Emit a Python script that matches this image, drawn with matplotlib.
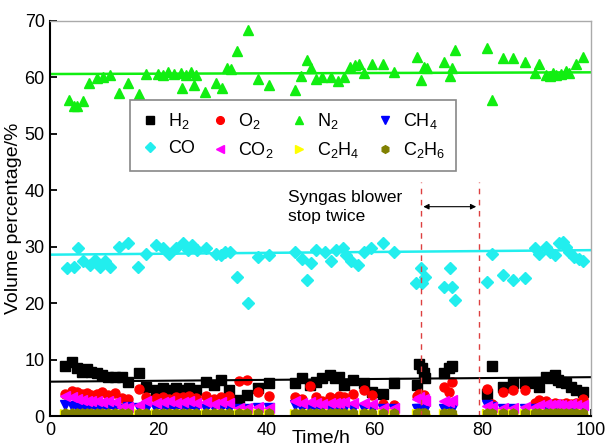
import matplotlib
matplotlib.use("Agg")
import matplotlib.pyplot as plt

plt.rcParams['font.family'] = ['Liberation Sans', 'DejaVu Sans']
plt.rcParams['mathtext.default'] = 'regular'

# sampling times (h) for the low-concentration gases
t_low = [2.8, 4.0, 4.9, 5.8, 6.7, 7.6, 8.6, 9.5, 10.7, 11.9,
         13.2, 14.4, 16.4, 17.7, 19.6, 20.8, 22.0, 23.2, 24.5, 25.7,
         26.9, 28.8, 30.3, 31.5, 33.0, 34.9, 36.4, 38.5, 40.4, 45.3,
         46.5, 48.0, 49.2, 50.2, 51.7, 52.6, 53.5, 54.4, 56.0, 58.1,
         59.6, 61.5, 63.6, 67.9, 68.2, 68.8, 69.1, 69.4, 72.8, 73.7,
         74.3, 80.7, 81.7, 83.8, 85.6, 87.8, 89.6, 90.5, 91.7, 92.4,
         93.3, 93.9, 94.5, 95.4, 96.3, 97.2, 98.5]
h2 = [8.9, 9.5, 8.5, 7.9, 8.3, 7.9, 7.6, 7.3, 7.0, 7.0,
      6.9, 6.1, 7.7, 5.2, 4.6, 4.9, 4.6, 4.9, 4.6, 4.9,
      4.6, 6.1, 5.5, 6.4, 4.6, 2.8, 3.7, 4.9, 5.8, 5.8,
      6.7, 5.5, 6.1, 6.7, 7.3, 6.7, 7.0, 5.5, 6.4, 5.8,
      4.3, 4.0, 5.8, 5.5, 9.3, 8.5, 7.6, 6.7, 7.6, 8.5,
      8.8, 4.0, 8.9, 5.2, 5.8, 5.8, 5.8, 5.2, 7.0, 6.7,
      7.3, 6.4, 6.1, 5.8, 5.2, 4.6, 4.3]
o2 = [4.0, 4.5, 4.3, 3.9, 4.1, 3.8, 3.9, 4.2, 3.8, 4.1,
      3.2, 3.0, 4.8, 3.4, 3.2, 3.4, 3.1, 3.4, 3.3, 3.5,
      3.2, 3.6, 3.0, 3.4, 3.5, 6.3, 6.4, 4.3, 3.6, 3.3,
      3.0, 5.4, 3.4, 2.6, 3.3, 3.0, 3.6, 3.3, 4.0, 4.6,
      3.7, 2.2, 1.9, 3.6, 4.0, 3.3, 3.8, 2.8, 5.2, 4.3,
      6.0, 4.8, 2.2, 4.3, 4.6, 4.6, 2.3, 2.8, 2.6, 2.2,
      2.4, 2.2, 2.1, 2.3, 2.2, 2.4, 3.0]
co2 = [3.5, 3.3, 3.0, 2.8, 2.7, 2.6, 2.7, 2.5, 2.6, 2.5,
       1.6, 1.7, 2.0, 2.6, 2.4, 2.5, 2.6, 2.4, 2.5, 2.6,
       2.4, 2.5, 2.2, 2.5, 2.4, 1.4, 1.5, 1.6, 1.5, 2.6,
       2.4, 2.5, 2.3, 2.2, 2.4, 2.3, 2.4, 2.5, 2.3, 2.4,
       2.2, 1.5, 1.4, 3.0, 3.3, 2.8, 3.1, 2.6, 2.7, 2.5,
       2.9, 1.8, 1.6, 1.5, 1.5, 1.6, 1.6, 2.0, 2.1, 2.0,
       2.1, 2.0, 1.9, 2.0, 2.1, 1.9, 2.0]
ch4 = [2.0, 1.8, 1.6, 1.4, 1.3, 1.3, 1.2, 1.3, 1.2, 1.3,
       1.2, 1.6, 1.4, 1.2, 1.3, 1.2, 1.3, 1.2, 1.3, 1.2,
       1.3, 1.2, 1.4, 1.3, 1.2, 1.3, 1.2, 1.5, 1.4, 1.9,
       1.3, 1.2, 1.3, 1.2, 1.3, 1.2, 1.3, 1.2, 1.3, 1.2,
       1.3, 1.2, 1.3, 1.2, 1.3, 1.2, 1.3, 1.2, 1.3, 1.2,
       1.3, 1.9, 1.6, 1.3, 1.2, 1.3, 1.2, 1.3, 1.2, 1.3,
       1.2, 1.3, 1.2, 1.3, 1.2, 1.3, 1.2]
c2h4 = [0.3, 0.4, 0.3, 0.4, 0.3, 0.4, 0.3, 0.4, 0.3, 0.4,
        0.3, 0.4, 0.3, 0.4, 0.3, 0.4, 0.3, 0.4, 0.3, 0.4,
        0.3, 0.4, 0.3, 0.4, 0.3, 0.4, 0.3, 0.4, 0.3, 0.4,
        0.3, 0.4, 0.3, 0.4, 0.3, 0.4, 0.3, 0.4, 0.3, 0.4,
        0.3, 0.4, 0.3, 0.4, 0.3, 0.4, 0.3, 0.4, 0.3, 0.4,
        0.3, 0.4, 0.3, 0.4, 0.3, 0.4, 0.3, 0.4, 0.3, 0.4,
        0.3, 0.4, 0.3, 0.4, 0.3, 0.4, 0.3]
c2h6 = [0.6, 0.5, 0.6, 0.5, 0.6, 0.5, 0.6, 0.5, 0.6, 0.5,
        0.6, 0.5, 0.6, 0.5, 0.6, 0.5, 0.6, 0.5, 0.6, 0.5,
        0.6, 0.5, 0.6, 0.5, 0.6, 0.5, 0.6, 0.5, 0.6, 0.5,
        0.6, 0.5, 0.6, 0.5, 0.6, 0.5, 0.6, 0.5, 0.6, 0.5,
        0.6, 0.5, 0.6, 0.5, 0.6, 0.5, 0.6, 0.5, 0.6, 0.5,
        0.6, 0.5, 0.6, 0.5, 0.6, 0.5, 0.6, 0.5, 0.6, 0.5,
        0.6, 0.5, 0.6, 0.5, 0.6, 0.5, 0.6]

t_n2 = [3.4, 4.3, 4.9, 6.1, 7.2, 8.6, 9.8, 11.0, 12.8, 14.4,
        16.4, 17.7, 19.9, 20.8, 21.7, 22.9, 24.2, 24.3, 25.1, 26.0,
        26.6, 26.9, 28.6, 30.6, 31.7, 32.7, 33.5, 34.6, 36.6, 38.4,
        40.4, 45.3, 46.4, 47.4, 48.3, 49.2, 50.2, 52.0, 53.2, 54.4,
        55.4, 56.3, 57.2, 58.1, 59.6, 61.5, 63.6, 67.9, 68.5, 69.1,
        69.7, 72.8, 74.0, 74.3, 74.9, 80.7, 81.7, 83.8, 85.6, 87.8,
        89.6, 90.5, 91.7, 92.4, 93.0, 93.6, 94.5, 95.4, 96.0, 97.2,
        98.5]
n2 = [56.0, 55.0, 54.9, 55.8, 59.0, 59.9, 60.0, 60.5, 57.2, 59.0,
      57.0, 60.6, 60.6, 60.5, 61.0, 60.6, 60.8, 58.2, 60.5, 61.0,
      58.7, 60.5, 57.5, 59.0, 58.2, 61.6, 61.5, 64.6, 68.4, 59.8,
      58.7, 57.8, 60.2, 63.1, 61.6, 59.8, 60.0, 60.1, 59.3, 60.0,
      61.9, 62.2, 62.4, 60.8, 62.4, 62.4, 60.9, 63.7, 59.6, 61.9,
      61.7, 62.8, 60.2, 61.7, 64.9, 65.2, 56.0, 63.4, 63.4, 62.8,
      60.8, 62.4, 60.5, 60.2, 60.8, 60.4, 60.6, 61.1, 60.8, 62.4,
      63.7]

t_co = [3.1, 4.3, 5.2, 6.1, 7.3, 8.3, 9.2, 10.1, 11.0, 12.8,
        14.4, 16.2, 17.7, 19.6, 20.8, 22.0, 23.2, 24.5, 25.4, 26.3,
        27.2, 28.8, 30.6, 31.5, 32.4, 33.3, 34.6, 36.6, 38.4, 40.4,
        45.3, 46.5, 47.4, 48.3, 49.2, 50.8, 52.0, 52.9, 54.1, 54.7,
        55.6, 56.9, 58.1, 59.3, 61.5, 63.6, 67.6, 68.5, 68.8, 69.4,
        72.8, 74.0, 74.3, 74.9, 80.7, 81.7, 83.8, 85.6, 87.8, 89.6,
        90.5, 91.7, 92.4, 93.3, 94.2, 94.8, 95.4, 96.0, 96.9, 97.9,
        98.5]
co = [26.2, 26.5, 29.7, 27.4, 26.8, 27.7, 26.5, 27.4, 26.5, 30.0,
      30.6, 26.5, 28.8, 30.3, 29.7, 28.8, 29.7, 30.6, 29.4, 30.3,
      29.4, 29.7, 28.8, 28.5, 29.1, 29.1, 24.7, 20.0, 28.2, 28.5,
      29.1, 27.9, 24.1, 27.1, 29.4, 29.1, 27.4, 29.4, 29.7, 28.5,
      27.4, 26.8, 29.1, 29.7, 30.6, 29.1, 23.5, 26.2, 23.5, 24.7,
      22.9, 26.2, 22.9, 20.6, 23.8, 28.8, 25.0, 24.1, 24.4, 29.7,
      28.8, 30.0, 29.1, 28.5, 30.6, 30.9, 30.0, 29.1, 28.2, 27.9,
      27.4]

# linear trend lines (end points)
fit_t = [0, 100]
fit_n2 = [60.6, 60.9]
fit_co = [28.6, 29.4]
fit_h2 = [6.1, 6.9]

# blower stop period
stop_t = [68.5, 79.3]

fig = plt.figure(figsize=(6.06, 4.46), dpi=100)
ax = fig.add_axes([0.083, 0.067, 0.892, 0.886])

ms = 6.5
ax.plot(t_low, h2, 's', color='black', ms=ms, label='H$_2$')
ax.plot(t_low, o2, 'o', color='#ff0000', ms=ms, label='O$_2$')
ax.plot(t_n2, n2, '^', color='#11ee11', ms=ms + 1, label='N$_2$')
ax.plot(t_low, ch4, 'v', color='#0000ff', ms=ms, label='CH$_4$')
ax.plot(t_co, co, 'D', color='#22eeee', ms=ms - 0.5, label='CO')
ax.plot(t_low, co2, '<', color='#ff00ff', ms=ms + 1, label='CO$_2$')
ax.plot(t_low, c2h4, '>', color='#ffff00', ms=ms, label='C$_2$H$_4$')
ax.plot(t_low, c2h6, 'h', color='#808000', ms=ms, label='C$_2$H$_6$')

ax.plot(fit_t, fit_n2, color='#11ee11', lw=1.8)
ax.plot(fit_t, fit_co, color='#22eeee', lw=1.8)
ax.plot(fit_t, fit_h2, color='black', lw=1.5)

for x in stop_t:
    ax.plot([x, x], [0, 41.5], color='#dd4040', lw=1, ls=(0, (4, 4)))
ax.annotate('', xy=(stop_t[0], 37.1), xytext=(stop_t[1], 37.1),
            arrowprops=dict(arrowstyle='<|-|>', color='black', lw=0.8,
                            mutation_scale=8))
ax.text(44.0, 37.0, 'Syngas blower\nstop twice', fontsize=12.5,
        ha='left', va='center', linespacing=1.3)

ax.set_xlim(0, 100)
ax.set_ylim(0, 70)
ax.set_xticks([0, 20, 40, 60, 80, 100])
ax.set_yticks([0, 10, 20, 30, 40, 50, 60, 70])
ax.tick_params(direction='in', length=5, width=1.3, labelsize=13, pad=4,
               top=False, right=False)
for side in ['left', 'bottom']:
    ax.spines[side].set_linewidth(1.5)
for side in ['top', 'right']:
    ax.spines[side].set_color('#aaaaaa')
    ax.spines[side].set_linewidth(1.0)

ax.set_xlabel('Time/h', fontsize=14, labelpad=-6)
ax.set_ylabel('Volume percentage/%', fontsize=14, labelpad=2)

handles, labels = ax.get_legend_handles_labels()
order = [0, 4, 1, 5, 2, 6, 3, 7]
leg = ax.legend([handles[i] for i in order], [labels[i] for i in order],
                ncol=4, loc='upper left', bbox_to_anchor=(0.147, 0.80),
                borderaxespad=0,
                fontsize=13, markerscale=0.85, handlelength=1.0,
                handletextpad=0.5, columnspacing=0.9, labelspacing=0.5,
                borderpad=0.6, fancybox=False, framealpha=1)
leg.get_frame().set_edgecolor('#888888')
leg.get_frame().set_linewidth(1.2)

fig.savefig('out.png', dpi=100)
